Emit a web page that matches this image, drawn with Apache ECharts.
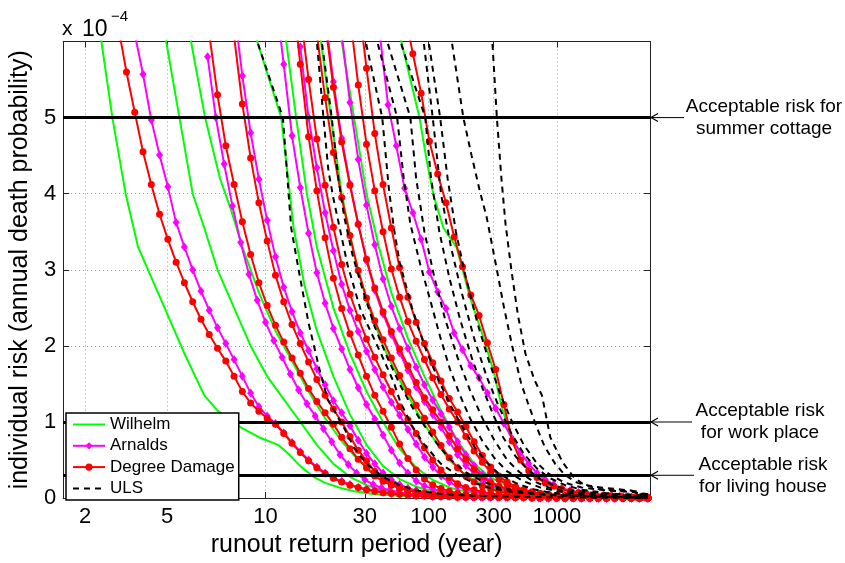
<!DOCTYPE html>
<html><head><meta charset="utf-8">
<script src="https://cdn.jsdelivr.net/npm/echarts@6/dist/echarts.min.js"></script>
<style>html,body{margin:0;padding:0;background:#fff}#c{width:845px;height:563px}</style>
</head><body><div id="c"></div><script>
// x axis: position along the runout scale (one unit = one computed step); tick labels = return period (years)
const xMin = -0.65, xMax = 70.25;
const xTickPos = [2.0, 11.9, 23.8, 35.8, 43.5, 51.35, 59.0];
const xTickLabels = ['2', '5', '10', '30', '100', '300', '1000'];
// y values in units of 1e-4 (annual death probability)
const yTicks = [0, 1, 2, 3, 4, 5];
const riskLevels = [5, 1, 0.3];
const riskTexts = ['Acceptable risk for\nsummer cottage', 'Acceptable risk\nfor work place', 'Acceptable risk\nfor living house'];

// Wilhelm (green, line only) [x, y]
const wilhelm1 = [[3.5,6.4],[3.97,6],[5.3,5],[6.9,4],[8.4,3.3],[10,2.9],[12,2.4],[14,1.9],[16.4,1.35],[18,1.15],[20.8,0.93],[23,0.8],[25.3,0.7],[26.5,0.59],[28,0.42],[29.6,0.28],[31,0.2],[33,0.13],[34.5,0.09],[37,0.05],[40,0.03],[45,0.015],[55,0.005],[70,0]];
const wilhelm2 = [[11.3,6.4],[11.8,6],[13.4,5],[15,4],[16.4,3.55],[18,3.0],[20,2.5],[22,2.0],[24,1.6],[26,1.3],[28,1.0],[30,0.7],[32,0.45],[34,0.28],[36,0.17],[38,0.1],[40,0.065],[43,0.04],[48,0.02],[55,0.01],[70,0]];
const wilhelm3 = [[14.3,6.4],[14.8,6],[16.5,5],[18.3,4.2],[19.6,3.8],[21,3.3],[23,2.7],[25,2.2],[27,1.8],[29,1.4],[31,1.05],[33,0.75],[35,0.5],[37,0.32],[39,0.2],[41,0.12],[43,0.08],[46,0.045],[50,0.025],[56,0.012],[70,0]];
const wilhelm4 = [[22.4,6.4],[22.8,6],[25.7,5],[27.2,3.55],[28.5,2.8],[30,2.2],[32,1.6],[34,1.1],[36,0.7],[38,0.42],[40,0.25],[42,0.15],[44,0.09],[47,0.05],[51,0.025],[57,0.01],[70,0]];
const wilhelm5 = [[25.8,6.4],[26.3,6],[27.5,5],[28.8,4],[30,3.3],[32,2.5],[34,1.9],[36,1.4],[38,1.0],[40,0.65],[42,0.4],[44,0.24],[46,0.14],[48,0.085],[51,0.045],[55,0.022],[61,0.01],[70,0]];
const wilhelm6 = [[30,6.4],[30.5,6],[31.7,5],[33,4],[34.5,3.2],[36,2.6],[38,2],[40,1.55],[42,1.15],[44,0.8],[46,0.5],[48,0.3],[50,0.18],[52,0.11],[54,0.07],[57,0.035],[62,0.015],[70,0]];
const wilhelm7 = [[32.5,6.4],[33,6],[34.5,5],[36,4],[37.5,3.3],[39,2.7],[41,2.1],[43,1.6],[45,1.15],[47,0.75],[49,0.45],[51,0.27],[53,0.16],[55,0.1],[57,0.065],[60,0.035],[64,0.015],[70,0]];
const wilhelm8 = [[39.6,6.4],[40.2,6],[42.4,5],[43.3,4.42],[44.1,3.98],[45.3,3.55],[46.9,3.29],[48.5,2.64],[50.1,2.12],[51.4,1.65],[52.2,1.26],[53,0.96],[54,0.65],[55,0.45],[56.5,0.28],[58,0.17],[60,0.1],[62,0.06],[65,0.03],[70,0.01]];

// Arnalds (magenta, diamonds): first x and y at each step
const arnalds1 = {start: 8, y: [6.1,5.57,4.97,4.51,4.09,3.62,3.3,3.0,2.72,2.47,2.24,2.03,1.82,1.6,1.38,1.2,1.08,0.98,0.86,0.73,0.61,0.5,0.41,0.33,0.27,0.22,0.18,0.14,0.12,0.1,0.08,0.06,0.05,0.04,0.03,0.03,0.02,0.02,0.02,0.01,0.01,0.01,0.01,0.01,0.01,0.01,0.01,0.01,0,0,0,0,0,0,0,0,0,0,0,0,0,0,0]};
const arnalds2 = {start: 16.8, y: [5.8,5.0,4.39,3.84,3.36,2.94,2.6,2.31,2.07,1.85,1.63,1.42,1.24,1.08,0.91,0.74,0.57,0.44,0.33,0.24,0.18,0.135,0.105,0.08,0.06,0.048,0.04,0.034,0.03,0.026,0.023,0.02,0.018,0.016,0.014,0.012,0.01,0.01,0.01,0.01,0,0,0,0,0,0,0,0,0,0,0,0,0,0]};
const arnalds3 = {start: 20, y: [6.45,5.55,4.8,4.19,3.65,3.17,2.77,2.45,2.17,1.94,1.7,1.49,1.28,1.12,0.95,0.76,0.59,0.45,0.33,0.24,0.18,0.13,0.1,0.077,0.058,0.046,0.038,0.032,0.027,0.023,0.02,0.017,0.015,0.013,0.011,0.01,0.01,0.01,0,0,0,0,0,0,0,0,0,0,0,0,0]};
const arnalds4 = {start: 25, y: [6.6,5.7,4.76,4.08,3.48,2.96,2.56,2.23,1.96,1.69,1.45,1.23,1.04,0.83,0.63,0.46,0.33,0.225,0.16,0.12,0.087,0.063,0.047,0.038,0.032,0.027,0.023,0.02,0.017,0.015,0.013,0.011,0.01,0.01,0.01,0,0,0,0,0,0,0,0,0,0,0]};
const arnalds5 = {start: 28, y: [5.93,5.0,4.34,3.75,3.25,2.81,2.47,2.19,1.93,1.69,1.46,1.26,1.09,0.9,0.71,0.54,0.41,0.29,0.21,0.155,0.115,0.088,0.065,0.049,0.04,0.034,0.029,0.025,0.021,0.018,0.015,0.013,0.011,0.01,0.01,0.01,0,0,0,0,0,0,0]};
const arnalds6 = {start: 31, y: [6.35,5.47,4.73,4.13,3.6,3.12,2.73,2.42,2.15,1.91,1.68,1.46,1.27,1.1,0.93,0.74,0.57,0.43,0.32,0.23,0.17,0.13,0.1,0.075,0.057,0.045,0.037,0.031,0.026,0.022,0.019,0.016,0.014,0.012,0.01,0.01,0.01,0,0,0]};
const arnalds7 = {start: 33, y: [6.1,5.2,4.45,3.85,3.33,2.88,2.52,2.23,1.97,1.72,1.49,1.29,1.11,0.93,0.74,0.57,0.43,0.31,0.22,0.16,0.12,0.09,0.068,0.05,0.041,0.035,0.03,0.025,0.021,0.018,0.015,0.013,0.011,0.01,0.01,0.01,0,0]};
const arnalds8 = {start: 37.6, y: [6.1,5.17,4.63,4.07,3.75,3.4,2.97,2.71,2.49,2.17,1.95,1.74,1.58,1.38,1.18,0.98,0.78,0.6,0.45,0.33,0.24,0.18,0.13,0.1,0.075,0.058,0.045,0.036,0.03,0.024,0.02,0.016,0.012]};

// Degree Damage (red, circles)
const damage1 = {start: 6, y: [6.2,5.6,5.07,4.55,4.12,3.73,3.4,3.1,2.83,2.58,2.35,2.15,1.97,1.8,1.6,1.4,1.25,1.14,1.05,0.97,0.85,0.72,0.6,0.49,0.4,0.32,0.26,0.21,0.17,0.14,0.11,0.09,0.07,0.06,0.05,0.04,0.03,0.03,0.02,0.02,0.02,0.01,0.01,0.01,0.01,0.01,0.01,0.01,0.01,0.01,0,0,0,0,0,0,0,0,0,0,0,0,0,0,0]};
const damage2 = {start: 17, y: [6.1,5.3,4.63,4.12,3.63,3.2,2.83,2.53,2.27,2.05,1.84,1.64,1.44,1.27,1.12,0.97,0.8,0.65,0.51,0.4,0.29,0.22,0.17,0.13,0.1,0.08,0.06,0.05,0.04,0.035,0.03,0.025,0.02,0.02,0.018,0.015,0.013,0.012,0.01,0.01,0.01,0.01,0.01,0,0,0,0,0,0,0,0,0,0,0]};
const damage3 = {start: 20, y: [6.07,5.18,4.47,3.88,3.38,2.93,2.58,2.28,2.03,1.79,1.56,1.35,1.17,1.0,0.81,0.63,0.49,0.35,0.26,0.19,0.14,0.105,0.08,0.06,0.048,0.04,0.035,0.03,0.025,0.022,0.02,0.018,0.015,0.013,0.012,0.01,0.01,0.01,0.01,0.01,0,0,0,0,0,0,0,0,0,0,0]};
const damage4 = {start: 27, y: [6.7,5.7,4.75,4.04,3.42,2.89,2.49,2.16,1.88,1.6,1.35,1.14,0.93,0.71,0.52,0.37,0.25,0.175,0.125,0.09,0.065,0.047,0.038,0.03,0.026,0.022,0.02,0.017,0.015,0.012,0.01,0.01,0.01,0.01,0.01,0,0,0,0,0,0,0,0,0]};
const damage5 = {start: 28, y: [6.4,5.5,4.72,4.11,3.56,3.07,2.68,2.37,2.09,1.85,1.62,1.4,1.2,1.03,0.85,0.66,0.5,0.37,0.27,0.19,0.14,0.11,0.08,0.06,0.047,0.04,0.033,0.028,0.024,0.02,0.017,0.015,0.013,0.011,0.01,0.01,0.01,0,0,0,0,0,0]};
const damage6 = {start: 30, y: [6.1,5.26,4.54,3.95,3.45,2.99,2.63,2.33,2.08,1.84,1.61,1.4,1.22,1.05,0.87,0.69,0.53,0.4,0.29,0.21,0.16,0.12,0.09,0.068,0.052,0.042,0.035,0.03,0.025,0.021,0.018,0.015,0.013,0.012,0.01,0.01,0.01,0,0,0,0]};
const damage7 = {start: 31, y: [6.25,5.4,4.68,4.11,3.6,3.14,2.76,2.45,2.19,1.96,1.74,1.52,1.32,1.16,1.0,0.82,0.65,0.51,0.38,0.28,0.2,0.155,0.12,0.094,0.07,0.054,0.044,0.037,0.031,0.026,0.022,0.018,0.015,0.012,0.01,0.01,0.01,0.01,0,0]};
const damage8 = {start: 34, y: [6.35,5.43,4.65,4.04,3.5,3.01,2.64,2.32,2.06,1.82,1.58,1.36,1.17,1.0,0.81,0.62,0.47,0.34,0.245,0.18,0.13,0.1,0.075,0.056,0.044,0.036,0.03,0.025,0.021,0.018,0.015,0.012,0.01,0.01,0.01,0,0]};
const damage9 = {start: 35, y: [6.55,5.65,4.79,4.12,3.55,3.03,2.64,2.31,2.03,1.78,1.54,1.31,1.13,0.94,0.74,0.56,0.41,0.29,0.21,0.15,0.11,0.083,0.062,0.047,0.038,0.032,0.027,0.022,0.018,0.015,0.012,0.01,0.01,0.01,0,0]};
const damage10 = {start: 40.6, y: [6.4,5.84,5.32,4.69,4.26,3.88,3.43,3.04,2.67,2.4,2.04,1.69,1.23,0.75,0.5,0.36,0.27,0.2,0.155,0.12,0.09,0.07,0.055,0.045,0.035,0.03,0.025,0.02,0.015,0.01]};

// ULS (black dashed) [x, y]
const uls1 = [[22.5,6.4],[22.8,6],[25.9,5],[26.9,3.55],[27.8,3],[29,2.3],[30.3,1.7],[31.3,1.3],[33.3,0.92],[34.5,0.66],[36,0.45],[38,0.28],[40,0.17],[42,0.1],[45,0.055],[49,0.03],[55,0.015],[62,0.008],[70,0]];
const uls2 = [[29.9,6.4],[30.0,6],[30.8,5],[31.4,4.3],[32,3.94],[33.7,3.07],[35.3,2.47],[37.7,1.91],[39.3,1.52],[40.1,1.26],[41.5,0.95],[43,0.7],[45,0.45],[47,0.3],[49,0.2],[51,0.13],[54,0.075],[58,0.04],[63,0.02],[70,0.005]];
const uls3 = [[30.3,6.4],[30.6,6],[31.8,5],[32.6,4.2],[33.3,3.7],[34.3,3.2],[35.5,2.75],[37,2.25],[38.5,1.85],[40,1.5],[41.5,1.2],[43,0.95],[44.5,0.72],[46,0.52],[48,0.34],[50,0.22],[52,0.14],[55,0.08],[59,0.04],[64,0.02],[70,0.01]];
const uls4 = [[35.7,6.4],[35.9,6],[37.9,5],[38.7,4.07],[39.3,3.55],[40,3.1],[41.5,2.5],[43,2.0],[44.5,1.6],[46,1.25],[47.5,0.95],[49,0.68],[50.5,0.47],[52,0.32],[54,0.2],[56,0.12],[58,0.075],[61,0.04],[65,0.02],[70,0.005]];
const uls5 = [[37.1,6.4],[37.3,6],[39.7,5],[40.5,4.2],[41.3,3.6],[42.5,3.07],[43.7,2.6],[44.9,2.12],[46.1,1.69],[47.3,1.35],[48.5,1.05],[50,0.75],[51.5,0.52],[53,0.35],[55,0.22],[57,0.14],[59,0.09],[62,0.05],[66,0.025],[70,0.01]];
const uls6 = [[38.3,6.4],[38.5,6],[41.3,5],[42,4.2],[43,3.5],[44.2,2.9],[45.5,2.35],[47,1.85],[48.5,1.42],[50,1.05],[51.5,0.75],[53,0.5],[54.5,0.34],[56,0.23],[58,0.14],[60,0.09],[63,0.05],[66,0.03],[70,0.01]];
const uls7 = [[39.9,6.4],[40.1,6],[43.1,5],[43.8,4.2],[44.8,3.5],[46,2.9],[47.3,2.35],[48.7,1.85],[50,1.45],[51.3,1.1],[52.5,0.8],[54,0.55],[55.5,0.37],[57,0.25],[59,0.15],[61,0.1],[64,0.06],[67,0.035],[70,0.02]];
const uls8 = [[42.7,6.4],[42.9,6],[44,5],[45,4],[46.2,3.3],[47.5,2.7],[49,2.1],[50.5,1.6],[52,1.2],[53.5,0.85],[55,0.58],[56.5,0.4],[58,0.27],[60,0.17],[62,0.11],[65,0.065],[68,0.04],[70,0.03]];
const uls9 = [[43.3,6.4],[43.5,6],[44.9,5],[45.8,4.2],[46.8,3.5],[48,2.9],[49.4,2.3],[50.8,1.8],[52.2,1.35],[53.6,1.0],[55,0.7],[56.5,0.47],[58,0.32],[60,0.2],[62,0.14],[65,0.1],[68,0.08],[70,0.05]];
const uls10 = [[45.8,6.4],[46.3,6],[47.7,5],[48.7,4.5],[49.7,4.03],[50.5,3.7],[51.7,3.03],[52.6,2.51],[53.6,2.0],[54.7,1.5],[55.5,1.25],[56.5,0.95],[57.5,0.68],[58.8,0.45],[60,0.3],[61.5,0.2],[63.5,0.15],[66,0.12],[68,0.1],[70,0.02]];
const uls11 = [[51,6.4],[51.2,6],[51.75,5],[52.3,4.2],[52.8,3.6],[53.5,3.0],[54.3,2.4],[55.2,1.9],[56.3,1.55],[57.2,1.35],[58.2,0.8],[59.7,0.47],[61,0.28],[62.2,0.18],[64,0.12],[66,0.1],[68.5,0.09],[69.5,0.05],[70.2,0]];

const wilhelmCurves = [wilhelm1, wilhelm2, wilhelm3, wilhelm4, wilhelm5, wilhelm6, wilhelm7, wilhelm8];
const arnaldsCurves = [arnalds1, arnalds2, arnalds3, arnalds4, arnalds5, arnalds6, arnalds7, arnalds8];
const damageCurves = [damage1, damage2, damage3, damage4, damage5, damage6, damage7, damage8, damage9, damage10];
const ulsCurves = [uls1, uls2, uls3, uls4, uls5, uls6, uls7, uls8, uls9, uls10, uls11];

const FONT = "'Liberation Sans', Arial, Helvetica, sans-serif";
function stepData(c) { return c.y.map((v, i) => [c.start + i, v]); }

const series = [];
wilhelmCurves.forEach(d => series.push({name: 'Wilhelm', type: 'line', data: d, showSymbol: false, symbol: 'none',
  lineStyle: {color: '#00ff00', width: 2}, itemStyle: {color: '#00ff00'}, z: 2}));
arnaldsCurves.forEach(c => series.push({name: 'Arnalds', type: 'line', data: stepData(c), symbol: 'diamond', symbolSize: [7, 9],
  lineStyle: {color: '#ff00ff', width: 2}, itemStyle: {color: '#ff00ff'}, z: 3}));
damageCurves.forEach(c => series.push({name: 'Degree Damage', type: 'line', data: stepData(c), symbol: 'circle', symbolSize: 7,
  lineStyle: {color: '#ff0000', width: 2}, itemStyle: {color: '#ff0000'}, z: 4}));
ulsCurves.forEach(d => series.push({name: 'ULS', type: 'line', data: d, showSymbol: false, symbol: 'none',
  lineStyle: {color: '#000000', width: 2, type: [6, 5]}, itemStyle: {color: '#000'}, z: 5}));
series.push({type: 'line', data: [], z: 8, markLine: {silent: true, symbol: 'none', animation: false,
  label: {show: false}, lineStyle: {color: '#000', width: 3, type: 'solid'},
  data: riskLevels.map(v => ({yAxis: v}))}});

const chart = echarts.init(document.getElementById('c'), null, {renderer: 'canvas'});
const tickFmt = v => { let best = 0; xTickPos.forEach((p, i) => { if (Math.abs(p - v) < Math.abs(xTickPos[best] - v)) best = i; }); return xTickLabels[best]; };
const noMarker = {color: 'rgba(0,0,0,0)', borderWidth: 0};
chart.setOption({
  animation: false,
  backgroundColor: '#fff',
  textStyle: {fontFamily: FONT},
  grid: {left: 62, right: 195, top: 41.5, bottom: 59, containLabel: false},
  legend: {
    data: [{name: 'Wilhelm', itemStyle: noMarker}, {name: 'Arnalds'}, {name: 'Degree Damage'}, {name: 'ULS', itemStyle: noMarker}],
    orient: 'vertical', left: 66, top: 413,
    backgroundColor: '#fff', borderColor: '#000', borderWidth: 1.5, padding: [3, 4, 3, 6], itemGap: 4.3,
    itemWidth: 32, itemHeight: 9, textStyle: {fontSize: 17, color: '#000', fontFamily: FONT, lineHeight: 17}, z: 20
  },
  xAxis: [{
    type: 'value', min: xMin, max: xMax, position: 'bottom',
    name: 'runout return period (year)', nameLocation: 'middle', nameGap: 31,
    nameTextStyle: {fontSize: 25, color: '#000', fontFamily: FONT},
    axisLine: {onZero: false, lineStyle: {color: '#222', width: 1}},
    axisTick: {inside: true, length: 6, customValues: xTickPos, lineStyle: {color: '#222'}},
    axisLabel: {customValues: xTickPos, formatter: tickFmt, fontSize: 22, color: '#000', margin: 8, fontFamily: FONT},
    splitLine: {show: true, lineStyle: {color: '#999', type: [1, 3], width: 1}}
  }, {
    type: 'value', min: xMin, max: xMax, position: 'top',
    axisLine: {onZero: false, lineStyle: {color: '#222', width: 1}},
    axisTick: {inside: true, length: 6, customValues: xTickPos, lineStyle: {color: '#222'}},
    axisLabel: {show: false}, splitLine: {show: false}
  }],
  yAxis: [{
    type: 'value', min: 0, max: 6, interval: 1, position: 'left',
    name: 'individual risk (annual death probability)', nameLocation: 'middle', nameGap: 25,
    nameTextStyle: {fontSize: 25, color: '#000', fontFamily: FONT},
    axisLine: {show: true, onZero: false, lineStyle: {color: '#222', width: 1}},
    axisTick: {show: true, inside: true, length: 6, lineStyle: {color: '#222'}},
    axisLabel: {fontSize: 22, color: '#000', margin: 7, fontFamily: FONT, formatter: v => yTicks.includes(v) ? String(v) : ''},
    splitLine: {show: true, lineStyle: {color: '#999', type: [1, 3], width: 1}}
  }, {
    type: 'value', min: 0, max: 6, interval: 1, position: 'right',
    axisLine: {show: true, onZero: false, lineStyle: {color: '#222', width: 1}},
    axisTick: {show: true, inside: true, length: 6, lineStyle: {color: '#222'}},
    axisLabel: {show: false}, splitLine: {show: false}
  }],
  series: series
});

// annotations outside the plot, anchored to the risk levels
const rightX = chart.convertToPixel({xAxisIndex: 0}, xMax);
const tailX = [684, 692, 694];
const textX = [764, 760, 763];
const graphics = [
  {type: 'text', left: 62, top: 19, style: {text: 'x', font: '21px ' + FONT, fill: '#000'}, z: 30},
  {type: 'text', left: 82, top: 18, style: {text: '10', font: '23px ' + FONT, fill: '#000'}, z: 30},
  {type: 'text', left: 111, top: 9, style: {text: '\u22124', font: '15px ' + FONT, fill: '#000'}, z: 30}
];
riskLevels.forEach((v, i) => {
  const py = chart.convertToPixel({yAxisIndex: 0}, v);
  graphics.push({type: 'line', shape: {x1: tailX[i], y1: py, x2: rightX, y2: py}, style: {stroke: '#000', lineWidth: 1}, z: 30});
  graphics.push({type: 'polyline', shape: {points: [[rightX + 8, py - 4], [rightX + 1, py], [rightX + 8, py + 4]]}, style: {stroke: '#000', lineWidth: 1.2, fill: null}, z: 30});
  graphics.push({type: 'text', x: textX[i], y: py, style: {text: riskTexts[i], font: '19px ' + FONT, fill: '#000', align: 'center', verticalAlign: 'middle', lineHeight: 22}, z: 30});
});
chart.setOption({graphic: graphics});
</script></body></html>
